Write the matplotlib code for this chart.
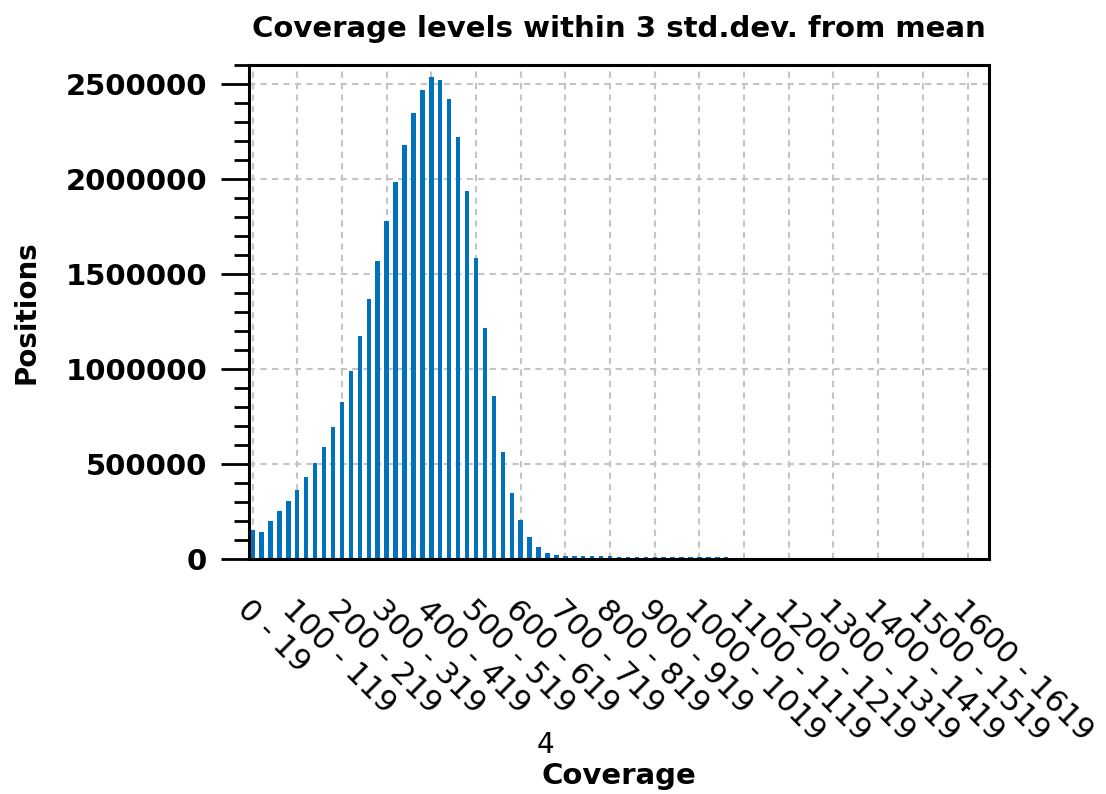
import matplotlib.pyplot as plt
import numpy as np
from matplotlib.ticker import MultipleLocator

# positions per coverage bin (bins of width 20, starting at 0 - 19)
counts = [153000, 144000, 198000, 254000, 305000, 363000, 430000, 503000,
          588000, 695000, 826000, 991000, 1175000, 1367000, 1567000,
          1777000, 1984000, 2181000, 2347000, 2470000, 2535000, 2519000,
          2423000, 2219000, 1935000, 1584000, 1214000, 858000, 565000,
          349000, 205000, 114000, 65000, 33000, 21000, 15000, 14500, 14000,
          14000, 13500, 13500, 13000, 13000, 13000, 12500, 12500, 12500,
          12000, 12000, 12000, 11500, 11500, 11000, 11000]

tick_labels = ["0 - 19", "100 - 119", "200 - 219", "300 - 319", "400 - 419",
               "500 - 519", "600 - 619", "700 - 719", "800 - 819",
               "900 - 919", "1000 - 1019", "1100 - 1119", "1200 - 1219",
               "1300 - 1319", "1400 - 1419", "1500 - 1519", "1600 - 1619"]
bins_per_tick = 5

blue = '#0072BD'

fig = plt.figure(figsize=(11.06, 7.94), dpi=100)
ax = fig.add_axes([249 / 1106, 1 - 559 / 794, 740 / 1106, 494 / 794])

x = np.arange(len(counts))
ax.bar(x, counts, width=0.5, color=blue, zorder=2)

ax.set_xlim(-0.4, 82.4)
ax.set_ylim(0, 2.6e6)

ax.set_xticks(np.arange(len(tick_labels)) * bins_per_tick)
ax.set_xticklabels(tick_labels, rotation=-45, ha='left', va='top',
                   rotation_mode='anchor', fontsize=22)
ax.set_yticks(np.arange(0, 2500001, 500000))
ax.set_yticklabels([str(v) for v in range(0, 2500001, 500000)],
                   fontsize=21, fontweight='bold')
ax.yaxis.set_minor_locator(MultipleLocator(100000))

ax.tick_params(axis='x', length=0, pad=26)
ax.tick_params(axis='y', which='major', length=20, width=2, direction='out',
               pad=10)
ax.tick_params(axis='y', which='minor', length=11, width=2, direction='out')

ax.grid(True, which='major', color='#c4c4c4', linestyle=(0, (3, 2.5)),
        linewidth=1.5, zorder=0)
ax.set_axisbelow(True)
for s in ax.spines.values():
    s.set_linewidth(2.2)

ax.set_title('Coverage levels within 3 std.dev. from mean', fontsize=21,
             fontweight='bold', pad=20)
ax.set_ylabel('Positions', fontsize=20, fontweight='bold')
ax.yaxis.set_label_coords(-0.282, 0.5)
ax.set_xlabel('Coverage', fontsize=21, fontweight='bold')
ax.xaxis.set_label_coords(0.5, -0.41)

fig.text(545 / 1106, 1 - 745 / 794, '4', fontsize=20, ha='center',
         va='center')

fig.savefig('out.png', dpi=100)
